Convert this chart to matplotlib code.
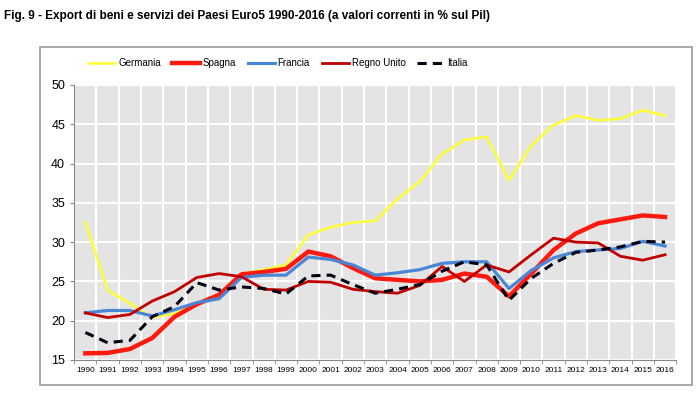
import numpy as np
import matplotlib
matplotlib.use("Agg")
import matplotlib.pyplot as plt
from matplotlib.patches import Rectangle
from matplotlib import font_manager

years = list(range(1990, 2017))

germania = [32.5, 23.9, 22.2, 20.4, 20.9, 22.3, 23.2, 26.0, 26.5, 27.1, 30.9, 31.9, 32.5,
            32.7, 35.5, 37.7, 41.2, 43.0, 43.4, 37.9, 42.3, 44.9, 46.1, 45.5, 45.7, 46.8, 46.1]
spagna = [15.85, 15.9, 16.4, 17.8, 20.5, 22.1, 23.3, 25.9, 26.2, 26.6, 28.8, 28.2, 26.7,
          25.4, 25.2, 25.0, 25.2, 26.0, 25.6, 23.1, 26.0, 29.0, 31.1, 32.4, 32.9, 33.4, 33.2]
francia = [21.0, 21.3, 21.3, 20.6, 21.4, 22.3, 22.8, 25.5, 25.8, 25.8, 28.1, 27.8, 27.1,
           25.8, 26.1, 26.5, 27.3, 27.5, 27.5, 24.1, 26.4, 28.0, 28.8, 29.0, 29.2, 30.1, 29.5]
regno_unito = [21.0, 20.4, 20.8, 22.5, 23.7, 25.5, 26.0, 25.6, 24.0, 23.9, 25.0, 24.9, 24.0,
               23.7, 23.5, 24.5, 26.9, 25.0, 27.1, 26.2, 28.4, 30.5, 30.0, 29.9, 28.2, 27.7, 28.4]
italia = [18.5, 17.2, 17.5, 20.5, 21.8, 24.85, 23.9, 24.3, 24.1, 23.4, 25.7, 25.8, 24.6,
          23.5, 24.0, 24.6, 26.3, 27.5, 27.1, 22.6, 25.4, 27.3, 28.7, 29.0, 29.4, 30.1, 30.0]

names = sorted(set(f.name for f in font_manager.fontManager.ttflist))
print(names)

plt.rcParams['font.family'] = ['DejaVu Sans Condensed', 'Liberation Sans', 'DejaVu Sans']

fig = plt.figure(figsize=(7, 3.94), dpi=100)
ax = fig.add_axes([0.106, 0.0863, 0.86, 0.698])

# cornice grigia attorno al grafico
fig.patches.append(Rectangle((0.057, 0.023), 0.932, 0.858, transform=fig.transFigure,
                             fill=False, edgecolor='#9a9a9a', linewidth=1.2))

fig.text(0.005, 0.975, "Fig. 9 - Export di beni e servizi dei Paesi Euro5 1990-2016 (a valori correnti in % sul Pil)",
         fontsize=8.5, fontweight='bold', va='top', ha='left')

x = np.arange(len(years))
ax.set_facecolor('#e4e4e4')
ax.plot(x, germania, color='#ffff33', lw=1.8, label='Germania', zorder=3)
ax.plot(x, spagna, color='#ff1a0f', lw=3.2, label='Spagna', zorder=3)
ax.plot(x, francia, color='#4a86d6', lw=2.3, label='Francia', zorder=3)
ax.plot(x, regno_unito, color='#c00000', lw=2.0, label='Regno Unito', zorder=4)
ax.plot(x, italia, color='#000010', lw=2.2, ls=(0, (3, 2)), label='Italia', zorder=5)

ax.set_xlim(-0.5, len(years) - 0.5)
ax.set_ylim(15, 50)
ax.set_yticks(range(15, 51, 5))
ax.set_xticks(x)
ax.set_xticklabels([str(y) for y in years], fontsize=6)
ax.set_xticks(np.arange(-0.5, len(years)), minor=True)
ax.tick_params(axis='x', which='major', length=0, pad=5)
ax.tick_params(axis='x', which='minor', length=3, color='#888888')
ax.tick_params(axis='y', labelsize=9, length=3, color='#888888')
ax.grid(axis='y', color='white', lw=1.5, zorder=1)
ax.grid(axis='x', which='minor', color='white', lw=1.5, zorder=1)
ax.set_axisbelow(True)
for s in ['top', 'right']:
    ax.spines[s].set_visible(False)
for s in ['left', 'bottom']:
    ax.spines[s].set_color('#888888')

ax.legend(loc='center', bbox_to_anchor=(0.397, 0.84), bbox_transform=fig.transFigure,
          ncol=5, frameon=False, fontsize=7, handlelength=2.8, columnspacing=1.2, handletextpad=0.3)

fig.savefig('out.png', dpi=100)
